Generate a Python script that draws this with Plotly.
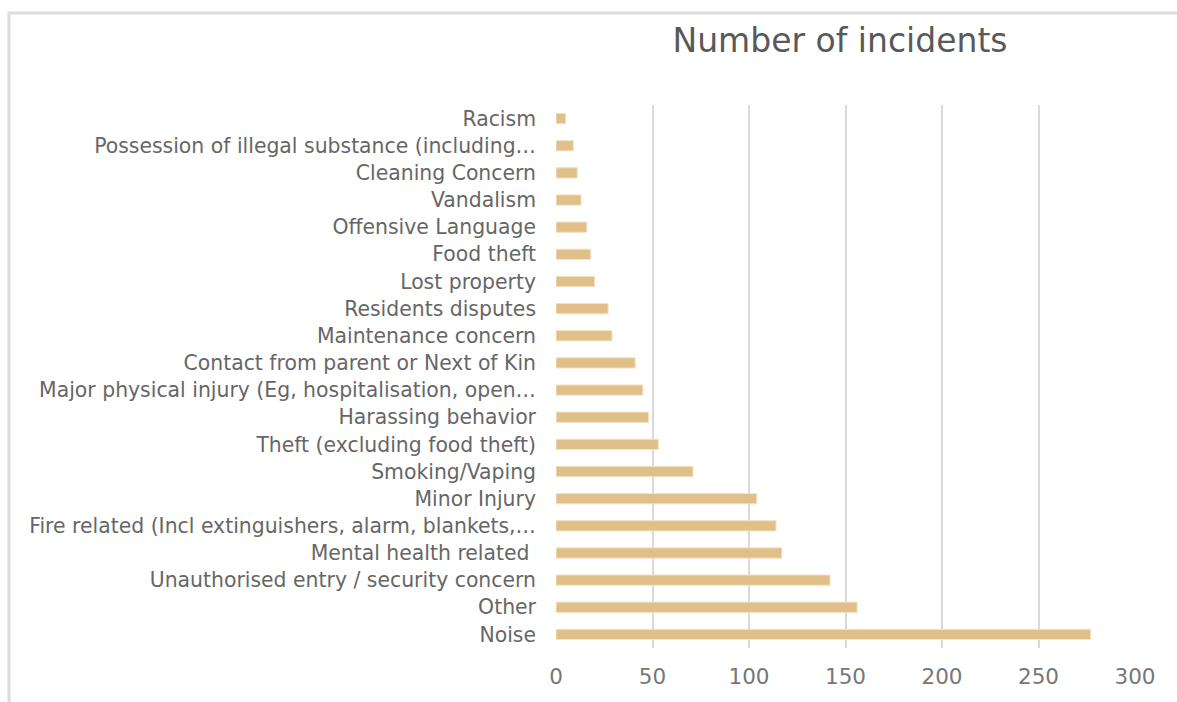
import plotly.graph_objects as go

categories = [
    "Noise", "Other", "Unauthorised entry / security concern", "Mental health related ",
    "Fire related (Incl extinguishers, alarm, blankets,…", "Minor Injury", "Smoking/Vaping",
    "Theft (excluding food theft)", "Harassing behavior",
    "Major physical injury (Eg, hospitalisation, open…", "Contact from parent or Next of Kin",
    "Maintenance concern", "Residents disputes", "Lost property", "Food theft",
    "Offensive Language", "Vandalism", "Cleaning Concern",
    "Possession of illegal substance (including…", "Racism",
]
values = [277, 156, 142, 117, 114, 104, 71, 53, 48, 45, 41, 29, 27, 20, 18, 16, 13, 11, 9, 5]
x_ticks = [0, 50, 100, 150, 200, 250, 300]

W, H = 1177, 702
L, R, T, B = 556, 42, 105, 54
pw, ph = W - L - R, H - T - B
FONT = "DejaVu Sans, Arial, sans-serif"

def px(x):
    return (x - L) / pw

def py(y):
    return (H - B - y) / ph

fig = go.Figure(go.Bar(
    y=categories, x=values, orientation="h",
    marker=dict(color="#E0C088", line=dict(color="#F3E3C4", width=1)),
    hoverinfo="x+y",
))

fig.update_layout(
    width=W, height=H,
    margin=dict(l=L, r=R, t=T, b=B),
    paper_bgcolor="white", plot_bgcolor="white",
    bargap=0.62,
    showlegend=False,
    font=dict(family=FONT, color="#666666"),
    title=dict(text="Number of incidents", x=px(840), xref="paper", xanchor="center",
               y=1 - 40 / H, yref="container", yanchor="middle",
               font=dict(size=33, color="#595959", family=FONT)),
    xaxis=dict(range=[0, 300], tickvals=x_ticks, showgrid=True, gridcolor="#d9d9d9",
               gridwidth=1.5, zeroline=False, showline=False, ticks="",
               tickfont=dict(size=21.5, color="#777777"), ticklabelstandoff=13,
               fixedrange=True),
    yaxis=dict(categoryorder="array", categoryarray=categories, showgrid=False,
               zeroline=False, showline=False, ticks="",
               tickfont=dict(size=20.4, color="#666666"), ticklabelstandoff=19,
               range=[-0.5, len(categories) - 0.5], fixedrange=True),
    shapes=[dict(type="rect", xref="paper", yref="paper",
                 x0=px(9), x1=px(W + 20), y0=py(H + 20), y1=py(13),
                 line=dict(color="#dcdcdc", width=3), layer="below")],
)

fig.write_html("out.html")
